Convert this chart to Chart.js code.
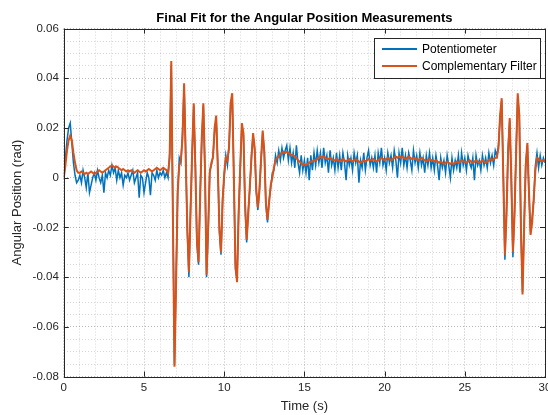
<!DOCTYPE html>
<html>
<head>
<meta charset="utf-8">
<script src="https://cdn.jsdelivr.net/npm/chart.js@4.4.0/dist/chart.umd.min.js"></script>
<style>
  html, body { margin: 0; padding: 0; background: #fff; overflow: hidden; }
  #wrap { width: 570px; height: 415px; }
</style>
</head>
<body>
<div id="wrap"><canvas id="fitChart" width="570" height="415"></canvas></div>
<script>
// samples every 0.1 s from 0 to 30 s, values in mrad
const dt = 0.1;

const filterMrad = [
  0, 5, 11, 15, 17, 15, 10, 6, 3, 2,
  2, 2.5, 2, 1.5, 2, 1.5, 2, 2.5, 2, 1.5,
  2, 2.5, 3, 2.5, 2, 2.5, 3, 3.5, 4, 4.5,
  5, 4.5, 4, 4.5, 4, 3.5, 3, 3.5, 3, 2.5,
  3, 2.5, 3, 2.5, 2, 2.5, 3, 2.5, 2, 2.5,
  3, 2.5, 3, 3.5, 3, 2.5, 3, 3.5, 4, 3.5,
  3, 3.5, 4, 3.5, 3, 2, 8, 47, -15, -76,
  -42, -6, 5, 7, 16, 38, 8, -20, -38, -14,
  10, 30, 4, -25, -34, -8, 16, 30, 4, -39,
  -20, 2, 6, 8, 20, 25, 4, -20, -30, -10,
  2, 8, 7, 12, 30, 34, 0, -35, -42, -15,
  5, 22, 18, -10, -25, -15, -3, 8, 18, 12,
  -5, -12, -5, 8, 19, 10, -10, -17, -10, -3,
  0, 4, 7, 8, 8.5, 9.5, 10, 10.5, 10, 10.5,
  10, 9.5, 9, 9, 8.5, 8, 7, 6.5, 6, 5,
  5.5, 5, 5.5, 6, 6.5, 6.5, 7, 7, 7.5, 8,
  8.5, 8, 8.5, 8, 7.5, 7.5, 8, 7.5, 7, 7,
  7.5, 7, 6.5, 7, 7.5, 7, 6.5, 7, 7.5, 7,
  6.5, 7, 7.5, 7, 6.5, 6, 6.5, 7, 6.5, 7,
  7.5, 7, 7, 7.5, 7, 6.5, 7, 7.5, 8, 7.5,
  7, 7.5, 8, 7.5, 7, 7.5, 8, 8.5, 8, 8.5,
  8, 8.5, 8, 7.5, 8, 8.5, 8, 7.5, 8, 7.5,
  7.5, 7, 7.5, 8, 7.5, 7, 6.5, 7, 7.5, 7,
  7, 6.5, 7, 6.5, 6, 6.5, 6, 5.5, 6, 6.5,
  6, 5.5, 6, 5.5, 6, 6.5, 6, 6.5, 7, 6.5,
  6.5, 6, 6.5, 7, 6.5, 6, 6.5, 7, 6.5, 6,
  6.5, 7, 6.5, 6, 6.5, 7, 7.5, 7, 7.5, 8,
  8, 12, 25, 32, 0, -31, -15, 10, 24, 0,
  -30, -15, 10, 34, 25, -20, -47, -20, 5, 14,
  -5, -23, -18, -8, 3, 8, 7.5, 7, 6.5, 7,
  6.5
];

const potMrad = [
  0, 8, 15, 20, 22, 14, 6, 1, -2, -1,
  1, -2, 3, 0, -4, 2, -6, -3, 0, 2,
  -1, 3, 0, -2, 1, -6, 2, 0, 3, 1,
  5, 2, 4, -1, 3, 0, 2, -3, 1, 0,
  2, -1, 1, 3, -2, 0, 2, -8, 1, 0,
  -6, -2, 2, 0, -7, 2, 1, -1, 3, 0,
  2, 1, 3, 0, 2, 0, 10, 45, -14, -75,
  -40, -5, 8, 6, 18, 37, 10, -22, -40, -12,
  9, 29, 6, -27, -35, -6, 15, 29, 2, -40,
  -22, 3, 5, 9, 18, 24, 6, -22, -31, -8,
  0, 9, 5, 13, 29, 33, 2, -37, -41, -13,
  3, 21, 17, -12, -26, -13, -4, 9, 17, 11,
  -6, -13, -4, 7, 18, 11, -11, -18, -9, -4,
  2, 3, 9, 6, 11, 7, 12, 8, 11, 13,
  7, 12, 6, 10, 4, 13, 6, 2, 9, 3,
  7, 2, 8, -1, 9, 3, 10, 5, 11, 6,
  10, 4, 12, 6, 9, 2, 11, 5, 8, 3,
  10, 4, 9, 3, 10, 6, -1, 9, 5, 8,
  3, 10, 6, 9, -2, 7, 4, 10, 3, 8,
  11, 5, 8, 4, 9, 2, 10, 6, 12, 5,
  8, 3, 10, 6, 9, 4, 11, 7, 0, 10,
  6, 12, 5, 9, 4, 10, 7, 3, 11, 6,
  9, 4, 10, 5, 8, 2, 9, 5, 10, 4,
  8, 3, 9, 5, -1, 8, 4, 7, 2, 9,
  5, 0, 8, 3, 7, 4, 9, 2, 10, 5,
  8, 3, 9, 6, 4, 8, -1, 9, 5, 7,
  3, 9, 5, 8, 4, 10, 6, 9, 5, 11,
  9, 13, 24, 31, 2, -33, -13, 12, 23, -2,
  -32, -13, 11, 33, 23, -22, -46, -18, 6, 13,
  -7, -22, -16, -9, 5, 10, 4, 9, 5, 8,
  6
];

const seriesNames = ['Potentiometer', 'Complementary Filter'];
const seriesColors = ['#0072BD', '#D95319'];

const xMajorTicks = [0, 5, 10, 15, 20, 25, 30];
const yMajorTicks = [-0.08, -0.06, -0.04, -0.02, 0, 0.02, 0.04, 0.06];
const yTickLabels = ['-0.08', '-0.06', '-0.04', '-0.02', '0', '0.02', '0.04', '0.06'];

const FONT = '"Liberation Sans", Arial, Helvetica, sans-serif';
const INK = '#262626';

function toPoints(arr) {
  return arr.map((v, i) => ({ x: Math.round(i * dt * 10) / 10, y: v / 1000 }));
}

function majorIndex(list, v) {
  return list.findIndex(m => Math.abs(m - v) < 1e-6);
}

// box round the axes, inward ticks and legend, MATLAB style
const matlabAxes = {
  id: 'matlabAxes',
  afterDraw(chart) {
    const { ctx, chartArea: a, scales } = chart;
    ctx.save();
    ctx.strokeStyle = INK;
    ctx.lineWidth = 1;
    ctx.beginPath();
    xMajorTicks.forEach(t => {
      const px = Math.round(scales.x.getPixelForValue(t)) + 0.5;
      ctx.moveTo(px, a.bottom); ctx.lineTo(px, a.bottom - 5);
      ctx.moveTo(px, a.top); ctx.lineTo(px, a.top + 5);
    });
    yMajorTicks.forEach(t => {
      const py = Math.round(scales.y.getPixelForValue(t)) + 0.5;
      ctx.moveTo(a.left, py); ctx.lineTo(a.left + 5, py);
      ctx.moveTo(a.right, py); ctx.lineTo(a.right - 5, py);
    });
    ctx.stroke();
    ctx.strokeRect(Math.round(a.left) + 0.5, Math.round(a.top) + 0.5,
      Math.round(a.right - a.left), Math.round(a.bottom - a.top));

    // legend
    const bx = a.right - 171, by = a.top + 9, bw = 166, bh = 40;
    ctx.fillStyle = '#fff';
    ctx.fillRect(bx, by, bw, bh);
    ctx.strokeRect(Math.round(bx) + 0.5, Math.round(by) + 0.5, bw, bh);
    ctx.font = '12px ' + FONT;
    ctx.textBaseline = 'middle';
    chart.data.datasets.forEach((ds, i) => {
      const ly = by + 11.5 + i * 17;
      ctx.strokeStyle = ds.borderColor;
      ctx.lineWidth = 2;
      ctx.beginPath();
      ctx.moveTo(bx + 8, ly); ctx.lineTo(bx + 43, ly);
      ctx.stroke();
      ctx.fillStyle = '#000';
      ctx.fillText(ds.label, bx + 48, ly + 0.5);
    });
    ctx.restore();
  }
};

const ctx = document.getElementById('fitChart').getContext('2d');

const chart = new Chart(ctx, {
  type: 'line',
  data: {
    datasets: [
      {
        label: seriesNames[0],
        data: toPoints(potMrad),
        borderColor: seriesColors[0],
        borderWidth: 1.5,
        order: 1
      },
      {
        label: seriesNames[1],
        data: toPoints(filterMrad),
        borderColor: seriesColors[1],
        borderWidth: 2,
        order: 0
      }
    ]
  },
  options: {
    responsive: false,
    animation: false,
    layout: { padding: { left: 10, right: 25, top: 2, bottom: 1 } },
    elements: { point: { radius: 0 }, line: { tension: 0, fill: false } },
    plugins: {
      legend: { display: false },
      tooltip: { enabled: false },
      title: {
        display: true,
        fullSize: false,
        text: 'Final Fit for the Angular Position Measurements',
        color: '#000',
        font: { family: FONT, size: 13, weight: 'bold' },
        padding: { top: 9, bottom: 2 }
      }
    },
    scales: {
      x: {
        type: 'linear',
        min: 0,
        max: 30,
        ticks: {
          stepSize: 1,
          autoSkip: false,
          maxRotation: 0,
          color: INK,
          font: { family: FONT, size: 11.5 },
          padding: 4,
          callback: v => majorIndex(xMajorTicks, v) >= 0 ? String(v) : ''
        },
        grid: {
          drawTicks: false,
          color: c => (c.tick && majorIndex(xMajorTicks, c.tick.value) >= 0) ? 'rgba(0,0,0,0.28)' : 'rgba(0,0,0,0.16)'
        },
        border: { display: false, dash: [1, 2] },
        title: {
          display: true,
          text: 'Time (s)',
          color: INK,
          font: { family: FONT, size: 13 },
          padding: { top: 0, bottom: 0 }
        }
      },
      y: {
        min: -0.08,
        max: 0.06,
        ticks: {
          stepSize: 0.005,
          autoSkip: false,
          color: INK,
          font: { family: FONT, size: 11.5 },
          padding: 5,
          callback: v => {
            const k = majorIndex(yMajorTicks, v);
            return k >= 0 ? yTickLabels[k] : '';
          }
        },
        grid: {
          drawTicks: false,
          color: c => (c.tick && majorIndex(yMajorTicks, c.tick.value) >= 0) ? 'rgba(0,0,0,0.28)' : 'rgba(0,0,0,0.16)'
        },
        border: { display: false, dash: [1, 2] },
        title: {
          display: true,
          text: 'Angular Position (rad)',
          color: INK,
          font: { family: FONT, size: 13 },
          padding: { top: 0, bottom: 2 }
        }
      }
    }
  },
  plugins: [matlabAxes]
});
</script>
</body>
</html>
